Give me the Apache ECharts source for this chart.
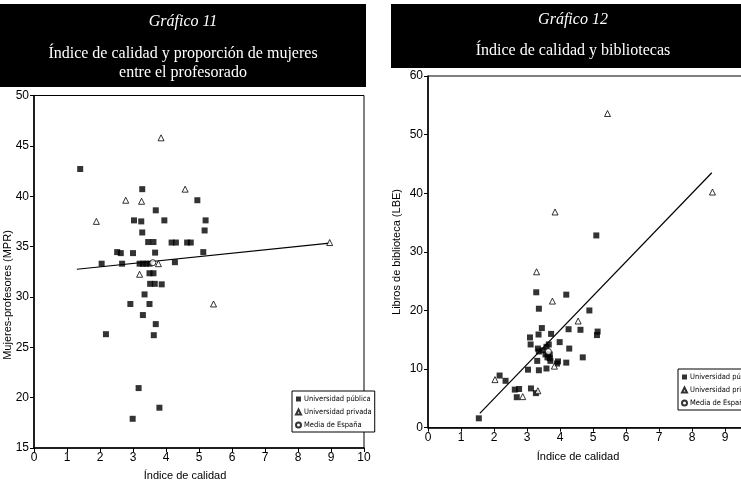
<!DOCTYPE html>
<html>
<head>
<meta charset="utf-8">
<script src="https://cdn.jsdelivr.net/npm/echarts@6/dist/echarts.min.js"></script>
<style>
  html, body { margin: 0; padding: 0; background: #fff; overflow: hidden; }
  #chart { width: 790px; height: 485px; }
</style>
</head>
<body>
<div id="chart"></div>
<script>
// Gráfico 11: calidad vs mujeres profesoras
const pubMujeres = [
  [1.4, 42.7], [3.28, 40.7], [4.95, 39.6], [3.03, 37.6], [3.25, 37.5], [3.69, 38.6],
  [3.95, 37.6], [3.28, 36.4], [3.46, 35.45], [3.62, 35.45], [4.17, 35.4], [4.3, 35.4],
  [4.64, 35.4], [4.75, 35.4], [5.2, 37.6], [5.17, 36.6], [5.13, 34.45], [2.52, 34.45],
  [2.63, 34.35], [3.0, 34.35], [3.67, 34.4], [2.05, 33.3], [2.67, 33.3], [3.2, 33.3],
  [3.3, 33.3], [3.4, 33.3], [3.5, 33.3], [4.27, 33.45], [3.5, 32.35], [3.62, 32.35],
  [3.52, 31.3], [3.66, 31.3], [3.87, 31.25], [3.35, 30.25], [2.92, 29.3], [3.5, 29.3],
  [3.3, 28.2], [2.18, 26.3], [3.63, 26.2], [3.69, 27.3], [3.17, 20.95], [3.8, 19.0],
  [2.99, 17.9]
];
const privMujeres = [
  [3.85, 45.8], [4.58, 40.7], [2.78, 39.6], [3.26, 39.5], [1.89, 37.5], [3.77, 33.3],
  [3.2, 32.25], [5.44, 29.3], [8.96, 35.4]
];
const mediaMujeres = [[3.6, 33.4]];
const ajusteMujeres = [[1.3, 32.75], [8.96, 35.35]];

// Gráfico 12: calidad vs libros de biblioteca
const pubLibros = [
  [1.54, 1.6], [3.28, 23.1], [3.36, 20.3], [4.19, 22.7], [4.89, 20.0], [5.1, 32.8],
  [3.45, 17.0], [3.09, 15.4], [3.35, 15.9], [3.11, 14.2], [3.73, 16.0], [4.26, 16.8],
  [4.62, 16.7], [5.14, 16.4], [5.12, 15.8], [3.99, 14.6], [4.28, 13.5], [3.33, 13.5],
  [3.36, 13.0], [3.66, 14.2], [3.59, 13.8], [3.48, 13.2], [3.56, 12.5], [3.64, 12.5],
  [3.69, 12.5], [3.62, 12.0], [3.69, 11.85], [3.71, 11.4], [3.31, 11.4], [3.94, 11.3],
  [3.91, 10.95], [4.19, 11.1], [4.69, 12.0], [3.36, 9.8], [3.59, 10.1], [3.03, 9.9],
  [2.17, 8.9], [2.35, 8.0], [2.63, 6.5], [2.76, 6.6], [3.12, 6.7], [3.27, 5.9],
  [2.69, 5.2]
];
const privLibros = [
  [5.44, 53.6], [8.62, 40.2], [3.85, 36.8], [3.29, 26.6], [3.77, 21.6], [4.55, 18.2],
  [3.83, 10.5], [2.03, 8.2], [2.87, 5.3], [3.33, 6.3]
];
const mediaLibros = [[3.65, 13.0]];
const ajusteLibros = [[1.57, 2.45], [8.6, 43.5]];

const nombres = ['Universidad pública', 'Universidad privada', 'Media de España'];

const chart = echarts.init(document.getElementById('chart'), null, { renderer: 'canvas' });

const font = 'Liberation Sans, Arial, sans-serif';
const serif = 'Liberation Serif, DejaVu Serif, serif';

function xAxisFor(gridIndex) {
  return {
    gridIndex: gridIndex,
    type: 'value',
    min: 0, max: 10, interval: 1,
    axisLine: { show: true, onZero: false, lineStyle: { color: '#000', width: 1.5 } },
    axisTick: { show: true, length: 4, lineStyle: { color: '#000' } },
    axisLabel: { color: '#000', fontSize: 12, fontFamily: font, margin: 4 },
    splitLine: { show: false }
  };
}

function yAxisFor(gridIndex, min, max, step) {
  return {
    gridIndex: gridIndex,
    type: 'value',
    min: min, max: max, interval: step,
    axisLine: { show: true, onZero: false, lineStyle: { color: '#000', width: 1.5 } },
    axisTick: { show: true, length: 4, lineStyle: { color: '#000' } },
    axisLabel: { color: '#000', fontSize: 12, fontFamily: font, margin: 5 },
    splitLine: { show: false }
  };
}

function seriesFor(idx, pub, priv, media, ajuste) {
  return [
    {
      name: nombres[0], type: 'scatter', xAxisIndex: idx, yAxisIndex: idx,
      data: pub, symbol: 'rect', symbolSize: 6,
      itemStyle: { color: '#000' }, z: 3
    },
    {
      name: nombres[1], type: 'scatter', xAxisIndex: idx, yAxisIndex: idx,
      data: priv, symbol: 'triangle', symbolSize: 6,
      itemStyle: { color: '#fff', borderColor: '#000', borderWidth: 1 }, z: 4
    },
    {
      name: nombres[2], type: 'scatter', xAxisIndex: idx, yAxisIndex: idx,
      data: media, symbol: 'circle', symbolSize: 6,
      itemStyle: { color: '#fff', borderColor: '#000', borderWidth: 1 }, z: 5
    },
    {
      type: 'line', xAxisIndex: idx, yAxisIndex: idx,
      data: ajuste, showSymbol: false, symbol: 'none',
      lineStyle: { color: '#000', width: 1.2 }, z: 2
    }
  ];
}

function legendAt(left, top) {
  return {
    data: nombres,
    orient: 'vertical',
    left: left, top: top,
    backgroundColor: '#fff',
    borderColor: '#000', borderWidth: 1,
    padding: [4, 3, 3, 3],
    itemWidth: 5, itemHeight: 5, itemGap: 5,
    selectedMode: false,
    textStyle: { fontSize: 7.5, color: '#000', fontFamily: 'DejaVu Sans Condensed, Liberation Sans Narrow, ' + font, padding: [0, 0, 0, -2] }
  };
}

// title boxes and axis names
const graphic = [
  { type: 'rect', left: 0, top: 4, shape: { width: 366, height: 83 }, style: { fill: '#000' } },
  { type: 'rect', left: 391, top: 4, shape: { width: 400, height: 64 }, style: { fill: '#000' } },
  { type: 'text', x: 183, y: 22, style: { text: 'Gráfico 11', fill: '#fff', font: 'italic 16px ' + serif, textAlign: 'center', textVerticalAlign: 'middle' } },
  { type: 'text', x: 183, y: 54, style: { text: 'Índice de calidad y proporción de mujeres', fill: '#fff', font: '16px ' + serif, textAlign: 'center', textVerticalAlign: 'middle' } },
  { type: 'text', x: 183, y: 73, style: { text: 'entre el profesorado', fill: '#fff', font: '16px ' + serif, textAlign: 'center', textVerticalAlign: 'middle' } },
  { type: 'text', x: 573, y: 20, style: { text: 'Gráfico 12', fill: '#fff', font: 'italic 16px ' + serif, textAlign: 'center', textVerticalAlign: 'middle' } },
  { type: 'text', x: 573, y: 51, style: { text: 'Índice de calidad y bibliotecas', fill: '#fff', font: '16px ' + serif, textAlign: 'center', textVerticalAlign: 'middle' } },
  { type: 'text', x: 185, y: 476, style: { text: 'Índice de calidad', fill: '#000', font: '11px ' + font, textAlign: 'center', textVerticalAlign: 'middle' } },
  { type: 'text', x: 578, y: 457, style: { text: 'Índice de calidad', fill: '#000', font: '11px ' + font, textAlign: 'center', textVerticalAlign: 'middle' } },
  { type: 'text', x: 8, y: 295, rotation: Math.PI / 2, style: { text: 'Mujeres-profesores (MPR)', fill: '#000', font: '11px ' + font, textAlign: 'center', textVerticalAlign: 'middle' } },
  { type: 'text', x: 397, y: 252, rotation: Math.PI / 2, style: { text: 'Libros de biblioteca (LBE)', fill: '#000', font: '11px ' + font, textAlign: 'center', textVerticalAlign: 'middle' } }
];

const option = {
  backgroundColor: '#fff',
  animation: false,
  grid: [
    { left: 34, top: 95.5, width: 330, height: 352.5, show: true, borderColor: '#000', borderWidth: 1, containLabel: false },
    { left: 428, top: 76, width: 330, height: 351.7, show: true, borderColor: '#000', borderWidth: 1, containLabel: false }
  ],
  xAxis: [xAxisFor(0), xAxisFor(1)],
  yAxis: [yAxisFor(0, 15, 50, 5), yAxisFor(1, 0, 60, 10)],
  legend: [legendAt(292, 391), legendAt(678, 369)],
  graphic: graphic,
  series: [].concat(
    seriesFor(0, pubMujeres, privMujeres, mediaMujeres, ajusteMujeres),
    seriesFor(1, pubLibros, privLibros, mediaLibros, ajusteLibros)
  )
};

chart.setOption(option);
</script>
</body>
</html>
